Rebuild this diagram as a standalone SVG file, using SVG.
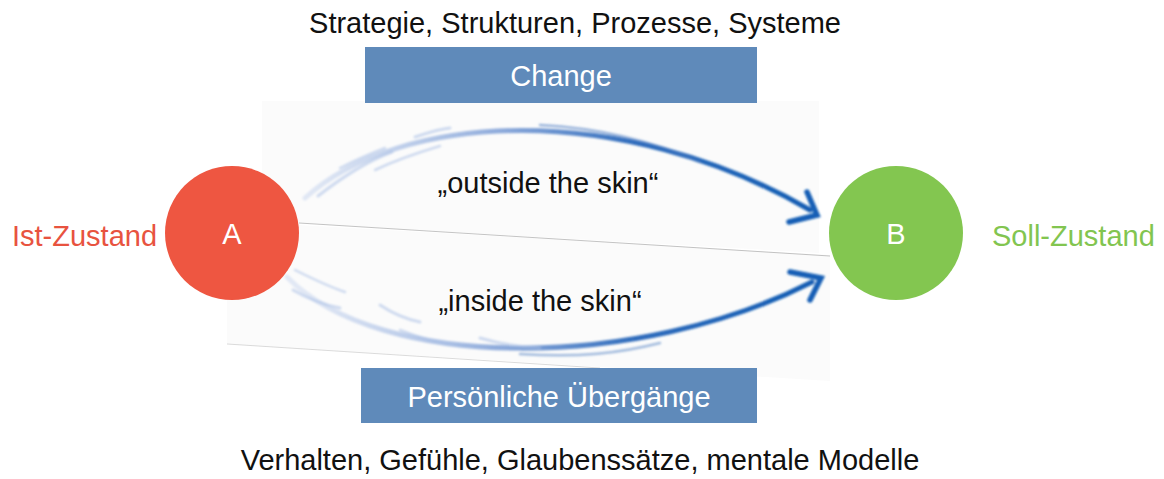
<svg xmlns="http://www.w3.org/2000/svg" width="1164" height="479" viewBox="0 0 1164 479">
<defs>
<style>
text{font-family:"Liberation Sans",Arial,sans-serif;font-size:29px}
.dark{fill:#111}
.white{fill:#fff}
.box{fill:#5f8aba}
.faint{fill:none;stroke:#a9bfe6;stroke-linecap:round;opacity:0.55}
.head{fill:none;stroke:#135fb5;stroke-width:5.5;stroke-linecap:round;stroke-linejoin:miter}
</style>
<linearGradient id="gu" gradientUnits="userSpaceOnUse" x1="300" y1="0" x2="815" y2="0">
<stop offset="0" stop-color="#c9d6ef" stop-opacity="0.5"/>
<stop offset="0.4" stop-color="#8aa8da"/>
<stop offset="0.65" stop-color="#2f6cbc"/>
<stop offset="1" stop-color="#125db3"/>
</linearGradient>
<filter id="soft" x="-10%" y="-10%" width="120%" height="120%">
<feGaussianBlur stdDeviation="0.9"/>
</filter>
</defs>
<rect width="1164" height="479" fill="#fff"/>
<g id="background">
<polygon points="262,101 819,101 819,253 262,221" fill="#fbfbfb"/>
<polygon points="227,221 830,255 830,381 227,344" fill="#fbfbfb"/>
<line x1="299" y1="223" x2="830" y2="256" stroke="#8a8a8a" stroke-width="1" opacity="0.5"/>
<line x1="227" y1="344" x2="600" y2="368" stroke="#8a8a8a" stroke-width="1" opacity="0.3"/>
</g>
<g id="title"><text class="dark" x="575" y="33" text-anchor="middle">Strategie, Strukturen, Prozesse, Systeme</text></g>
<g id="change"><rect class="box" x="365" y="47" width="392" height="56"/><text class="white" x="561" y="86" text-anchor="middle">Change</text></g>
<g id="uebergaenge"><rect class="box" x="361" y="368" width="396" height="55"/><text class="white" x="559" y="407" text-anchor="middle">Persönliche Übergänge</text></g>
<g id="bottom"><text class="dark" x="580" y="470" text-anchor="middle">Verhalten, Gefühle, Glaubenssätze, mentale Modelle</text></g>
<g id="connectors" filter="url(#soft)">
<path d="M305,198 C400,112 620,100 810,210" fill="none" stroke="url(#gu)" stroke-width="5" stroke-linecap="round"/>
<path class="faint" d="M318,196 C345,175 370,160 392,152" stroke-width="3"/>
<path class="faint" d="M340,168 C360,158 372,153 385,148" stroke-width="2.5"/>
<path class="faint" d="M415,137 C430,132 440,129 450,128" stroke-width="3"/>
<path class="faint" d="M375,170 C400,158 420,152 440,146" stroke-width="2.5"/>
<path d="M540,125 C600,128 650,140 700,162" fill="none" stroke="#4a7bc2" stroke-width="2.5" opacity="0.55" stroke-linecap="round"/>
<polyline class="head" points="807,192 817,215 789,222"/>
<path d="M287,277 C380,372 640,370 812,282" fill="none" stroke="url(#gu)" stroke-width="5" stroke-linecap="round"/>
<path class="faint" d="M295,270 C315,280 330,287 345,292" stroke-width="2.5"/>
<path class="faint" d="M293,290 C310,300 325,305 340,308" stroke-width="3"/>
<path class="faint" d="M380,305 C395,315 410,320 420,322" stroke-width="3"/>
<path class="faint" d="M400,330 C420,338 440,343 455,345" stroke-width="2.5"/>
<path class="faint" d="M480,338 C500,344 520,347 540,348" stroke-width="3"/>
<path d="M520,354 C580,358 620,353 660,343" fill="none" stroke="#4a7bc2" stroke-width="2.5" opacity="0.5" stroke-linecap="round"/>
<polyline class="head" points="790,272 821,278 810,300"/>
</g>
<g id="labels">
<text class="dark" x="548" y="193" text-anchor="middle">„outside the skin“</text>
<text class="dark" x="540" y="311" text-anchor="middle">„inside the skin“</text>
</g>
<g id="nodeA"><circle cx="232" cy="233" r="67" fill="#ee5641"/><text class="white" x="232" y="244" text-anchor="middle">A</text></g>
<g id="nodeB"><circle cx="896" cy="233" r="67" fill="#83c650"/><text class="white" x="896" y="244" text-anchor="middle">B</text></g>
<g id="istLabel"><text x="12" y="246" fill="#e8533f">Ist-Zustand</text></g>
<g id="sollLabel"><text x="992" y="246" fill="#82c550">Soll-Zustand</text></g>
</svg>
